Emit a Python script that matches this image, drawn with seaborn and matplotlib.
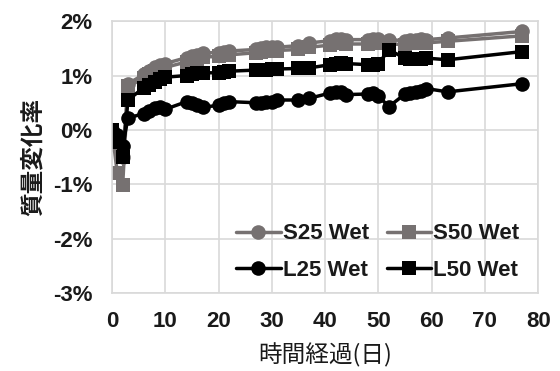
import matplotlib
matplotlib.use("Agg")
import matplotlib.pyplot as plt
import seaborn as sns
import numpy as np
from matplotlib.ticker import FuncFormatter, MultipleLocator

days = [0, 1, 2, 3, 6, 7, 8, 9, 10, 14, 15, 16, 17, 20, 21, 22, 27, 28, 29, 30, 31,
        35, 37, 41, 42, 43, 44, 48, 49, 50, 52, 55, 56, 57, 58, 59, 63, 77]

s25_wet = [0.0, -0.3, -0.5, 0.85, 1.02, 1.08, 1.15, 1.2, 1.22, 1.33, 1.36, 1.38, 1.42, 1.42, 1.44, 1.45,
           1.48, 1.5, 1.52, 1.52, 1.52, 1.55, 1.6, 1.64, 1.68, 1.68, 1.66, 1.66, 1.68, 1.68, 1.66,
           1.64, 1.66, 1.66, 1.67, 1.66, 1.69, 1.81]
s50_wet = [0.0, -0.8, -1.02, 0.8, 0.95, 1.02, 1.08, 1.13, 1.15, 1.25, 1.28, 1.3, 1.34, 1.35, 1.37, 1.38,
           1.42, 1.44, 1.45, 1.45, 1.46, 1.48, 1.52, 1.56, 1.6, 1.6, 1.58, 1.58, 1.6, 1.6, 1.58,
           1.57, 1.59, 1.59, 1.6, 1.6, 1.63, 1.73]
l25_wet = [0.0, -0.1, -0.3, 0.22, 0.3, 0.35, 0.4, 0.42, 0.38, 0.52, 0.5, 0.45, 0.42, 0.45, 0.5, 0.52,
           0.5, 0.5, 0.52, 0.52, 0.55, 0.55, 0.58, 0.68, 0.7, 0.7, 0.65, 0.66, 0.68, 0.62, 0.43,
           0.66, 0.68, 0.7, 0.72, 0.76, 0.7, 0.85]
l50_wet = [0.0, -0.22, -0.5, 0.55, 0.78, 0.83, 0.88, 0.93, 0.97, 1.0, 1.02, 1.04, 1.05, 1.05, 1.07, 1.08,
           1.1, 1.1, 1.11, 1.12, 1.12, 1.13, 1.14, 1.2, 1.22, 1.23, 1.22, 1.2, 1.2, 1.22, 1.47,
           1.32, 1.3, 1.3, 1.31, 1.32, 1.29, 1.44]

series_names = ["S25 Wet", "S50 Wet", "L25 Wet", "L50 Wet"]
x_ticks = [0, 10, 20, 30, 40, 50, 60, 70, 80]
x_label = "時間経過(日)"
y_label = "質量変化率"

sns.set_theme(style="white")
plt.rcParams['font.family'] = ['Liberation Sans', 'Noto Sans CJK JP', 'DejaVu Sans']

fig = plt.figure(figsize=(5.6, 3.71), dpi=100)
ax = fig.add_axes([0.2, 0.21, 0.761, 0.733])

gray = "#767171"
styles = [
    (s25_wet, gray, "o"),
    (s50_wet, gray, "s"),
    (l25_wet, "black", "o"),
    (l50_wet, "black", "s"),
]
for (vals, col, mk), name in zip(styles, series_names):
    sns.lineplot(x=days, y=vals, ax=ax, color=col, marker=mk, markersize=10.5,
                 markeredgewidth=0, linewidth=2.5, label=name, legend=False)

ax.set_xlim(0, 80)
ax.set_ylim(-3, 2)
ax.set_xticks(x_ticks)
ax.yaxis.set_major_locator(MultipleLocator(1))
ax.yaxis.set_major_formatter(FuncFormatter(lambda v, p: f"{v:.0f}%"))
ax.grid(True, color="#d9d9d9", linewidth=1.2)
ax.set_axisbelow(True)
for sp in ax.spines.values():
    sp.set_color("#d9d9d9")
    sp.set_linewidth(1.2)
ax.tick_params(length=0, labelsize=16)
ax.tick_params(axis="x", pad=13)
ax.tick_params(axis="y", pad=14)
for lbl in ax.get_xticklabels() + ax.get_yticklabels():
    lbl.set_fontweight("bold")
    lbl.set_color("#1a1a1a")

ax.set_xlabel(x_label, fontsize=17, family=['Noto Sans CJK JP'], labelpad=8, color="#1a1a1a")
ax.set_ylabel(y_label, fontsize=17, family=['Noto Sans CJK JP'], fontweight="bold",
              labelpad=6, color="#1a1a1a")

h, l = ax.get_legend_handles_labels()
order = [0, 2, 1, 3]
leg = ax.legend([h[i] for i in order], [l[i] for i in order], ncol=2, loc="lower right",
                bbox_to_anchor=(0.985, 0.0), frameon=False, prop={'weight': 'bold', 'size': 16},
                handlelength=2.0, handletextpad=0.1, columnspacing=0.8, labelspacing=0.7,
                borderaxespad=0.15)
for t in leg.get_texts():
    t.set_color("#1a1a1a")

fig.savefig("out.png", dpi=100)
